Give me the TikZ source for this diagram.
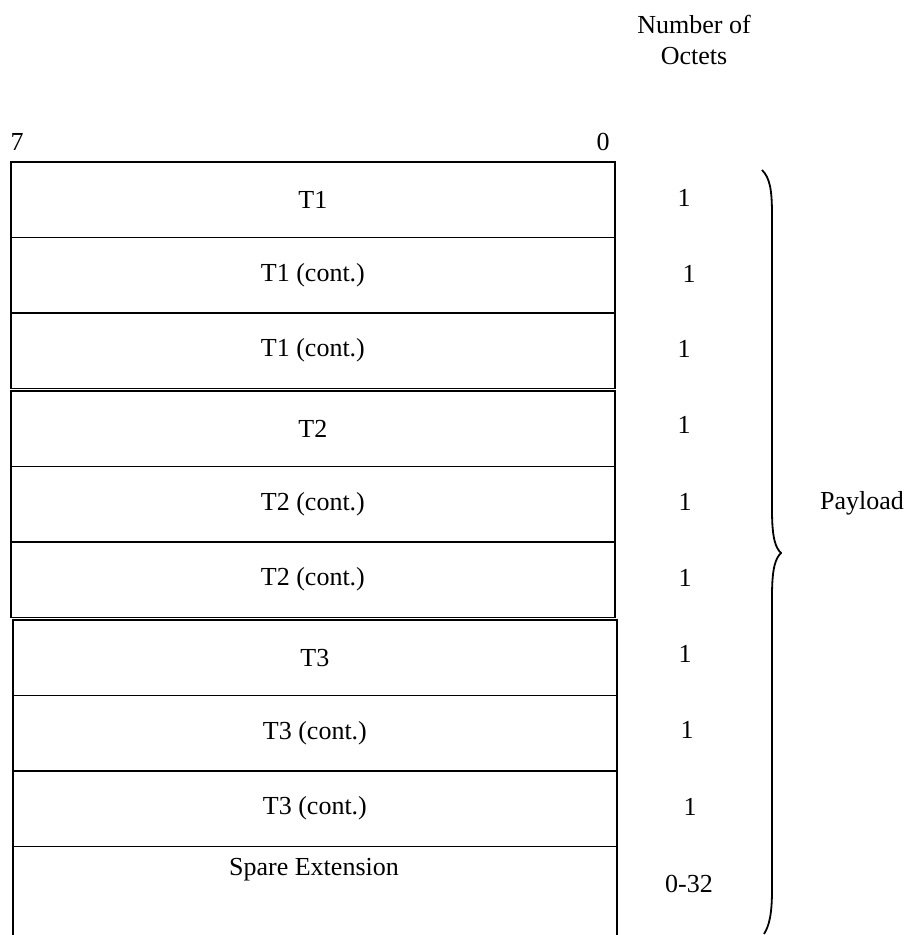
\documentclass[tikz,border=0pt]{standalone}
\usepackage{fontspec}
\setmainfont{Liberation Serif}
\begin{document}
\begin{tikzpicture}[x=1pt,y=-1pt,
  every node/.style={font=\fontsize{26}{31}\selectfont},
  row/.style={draw=black,line width=1.8pt,minimum width=604pt,minimum height=75.5pt,inner sep=0pt,anchor=north west},
  num/.style={inner sep=0pt}]
\useasboundingbox (0,0) rectangle (907,935);
% group 1
\node[row] (r1) at (10,161) {T1};
\node[row] (r2) at (10,236.5) {T1 (cont.)};
\node[row] (r3) at (10,312) {T1 (cont.)};
% group 2
\node[row] (r4) at (10,390) {T2};
\node[row] (r5) at (10,465.5) {T2 (cont.)};
\node[row] (r6) at (10,541) {T2 (cont.)};
% group 3
\node[row] (r7) at (12,619) {T3};
\node[row] (r8) at (12,694.5) {T3 (cont.)};
\node[row] (r9) at (12,770) {T3 (cont.)};
\node[row,minimum height=100pt] (r10) at (12,845.5) {};
\node (spare) at (314,870) {Spare Extension};
% bit labels
\node (b7) at (17,142) {7};
\node (b0) at (603,142) {0};
% header
\node[align=center] (hdr) at (694,40) {Number of\\Octets};
% octet counts
\node[num] (n1) at (684,198) {1};
\node[num] (n2) at (689,274) {1};
\node[num] (n3) at (684,349) {1};
\node[num] (n4) at (684,425) {1};
\node[num] (n5) at (685,502) {1};
\node[num] (n6) at (685,578) {1};
\node[num] (n7) at (685,654) {1};
\node[num] (n8) at (687,730) {1};
\node[num] (n9) at (690,807) {1};
\node[num] (n10) at (689,884) {0-32};
% brace
\coordinate (bt) at (762,170);
\coordinate (bm) at (781,553);
\coordinate (bb) at (764,934);
\draw[line width=1.8pt] (bt) .. controls (770,178) and (772,190) .. (772,215)
  -- (772,510) .. controls (772,540) and (776,548) .. (bm)
  .. controls (776,558) and (772,566) .. (772,596)
  -- (772,890) .. controls (772,915) and (769,926) .. (bb);
\node (pay) at (862,503) {Payload};
\end{tikzpicture}
\end{document}
